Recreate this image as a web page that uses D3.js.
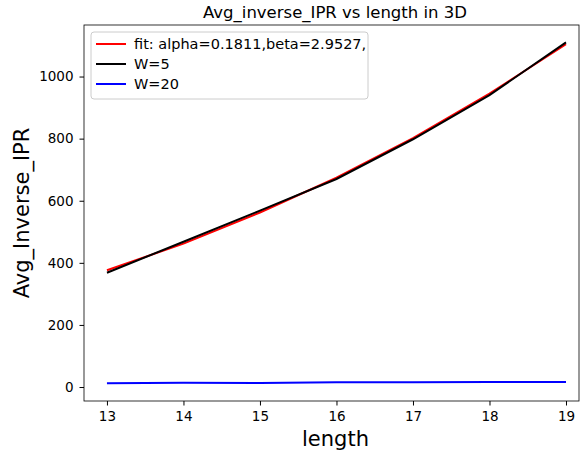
<!DOCTYPE html>
<html>
<head>
<meta charset="utf-8">
<script src="https://cdn.jsdelivr.net/npm/d3@7"></script>
<style>
  body { margin: 0; background: #fff; }
  svg { font-family: "DejaVu Sans", sans-serif; }
</style>
</head>
<body>
<script>
var width = 581, height = 456;

// data
var lengths = [13, 14, 15, 16, 17, 18, 19];
var fitValues = [376, 462, 562, 674, 802, 945, 1104];
var w5Values = [368, 468, 568, 670, 798, 940, 1110];
var w20Values = [12, 14, 13, 15, 15, 16, 16];
var xTicks = [13, 14, 15, 16, 17, 18, 19];
var yTicks = [0, 200, 400, 600, 800, 1000];

var series = [
    { name: "fit: alpha=0.1811,beta=2.9527,", color: "red", values: fitValues },
    { name: "W=5", color: "black", values: w5Values },
    { name: "W=20", color: "blue", values: w20Values }
];

// plot area (top is taken by window.top, so use other names)
var plotL = 84, plotR = 579, plotT = 25, plotB = 401;

var x = d3.scaleLinear().domain([12.7, 19.17]).range([plotL, plotR]);
var y = d3.scaleLinear().domain([-45, 1166]).range([plotB, plotT]);

var svg = d3.select("body").append("svg")
    .attr("width", width)
    .attr("height", height);

var line = d3.line()
    .x(function(d) { return x(d[0]); })
    .y(function(d) { return y(d[1]); });

series.forEach(function(s) {
    svg.append("path")
        .datum(lengths.map(function(l, i) { return [l, s.values[i]]; }))
        .attr("fill", "none")
        .attr("stroke", s.color)
        .attr("stroke-width", 2)
        .attr("d", line);
});

var xAxis = svg.append("g")
    .attr("transform", "translate(0," + plotB + ")")
    .call(d3.axisBottom(x).tickValues(xTicks).tickFormat(d3.format("d")).tickSize(4.5).tickPadding(6));
var yAxis = svg.append("g")
    .attr("transform", "translate(" + plotL + ",0)")
    .call(d3.axisLeft(y).tickValues(yTicks).tickFormat(d3.format("d")).tickSize(4.5).tickPadding(6));

[xAxis, yAxis].forEach(function(g) {
    g.select(".domain").remove();
    g.selectAll("text").attr("font-size", 13.5).attr("font-family", "DejaVu Sans").attr("fill", "#000");
    g.selectAll("line").attr("stroke", "#000");
});

// frame
svg.append("rect")
    .attr("x", plotL).attr("y", plotT)
    .attr("width", plotR - plotL).attr("height", plotB - plotT)
    .attr("fill", "none").attr("stroke", "#000").attr("stroke-width", 0.8);

svg.append("text")
    .attr("x", 335).attr("y", 18)
    .attr("text-anchor", "middle").attr("font-size", 16.5)
    .text("Avg_inverse_IPR vs length in 3D");

svg.append("text")
    .attr("x", (plotL + plotR) / 2 + 4).attr("y", 446)
    .attr("text-anchor", "middle").attr("font-size", 21)
    .text("length");

svg.append("text")
    .attr("transform", "translate(29," + ((plotT + plotB) / 2) + ") rotate(-90)")
    .attr("text-anchor", "middle").attr("font-size", 21)
    .text("Avg_Inverse_IPR");

// legend
var legend = svg.append("g");
legend.append("rect")
    .attr("x", 91).attr("y", 32).attr("width", 277).attr("height", 67)
    .attr("rx", 3).attr("fill", "#fff").attr("fill-opacity", 0.8)
    .attr("stroke", "#ccc").attr("stroke-width", 1);
series.forEach(function(s, i) {
    var ly = 44 + i * 20;
    legend.append("line")
        .attr("x1", 96).attr("x2", 126).attr("y1", ly).attr("y2", ly)
        .attr("stroke", s.color).attr("stroke-width", 2);
    legend.append("text")
        .attr("x", 134).attr("y", ly + 5)
        .attr("font-size", 14.5)
        .text(s.name);
});
</script>
</body>
</html>
